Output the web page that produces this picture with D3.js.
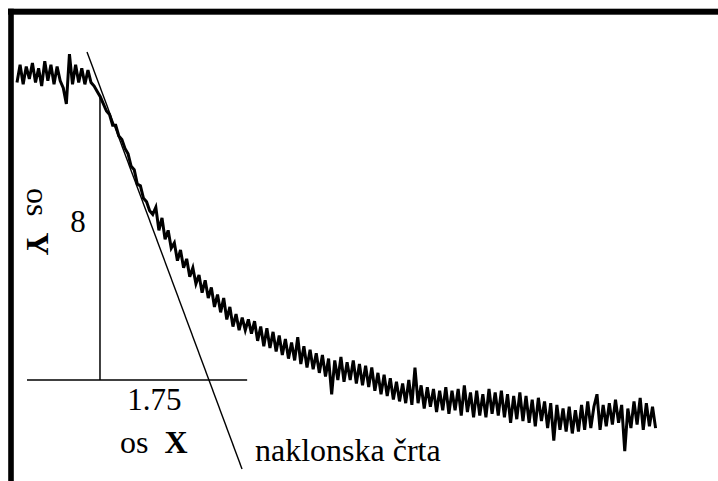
<!DOCTYPE html>
<html>
<head>
<meta charset="utf-8">
<script src="https://cdn.jsdelivr.net/npm/d3@7"></script>
<style>
  body { margin: 0; background: #fff; }
  svg { display: block; }
  text { font-family: "Liberation Serif", "Times New Roman", serif; fill: #000; }
</style>
</head>
<body>
<div id="chart"></div>
<script>
'use strict';
// measured signal, one reading every sampleStep time units
var sampleStep = 0.05;
var signal = [
    8.35, 8.85, 8.30, 8.80, 8.45, 8.90, 8.35, 8.75, 8.25, 8.95,
    8.40, 8.85, 8.30, 8.80, 8.40, 8.20, 7.75, 9.15, 8.30, 8.85,
    8.35, 8.75, 8.30, 8.70, 8.35, 8.25, 8.10, 7.95, 7.75, 7.55,
    7.45, 7.15, 7.15, 6.85, 6.75, 6.50, 6.35, 6.00, 5.90, 5.50,
    5.45, 5.10, 5.00, 4.75, 4.65, 4.85, 4.20, 4.55, 3.95, 4.20,
    3.70, 3.85, 3.35, 3.65, 3.15, 3.40, 2.90, 3.15, 2.70, 2.95,
    2.45, 2.80, 2.30, 2.60, 2.05, 2.40, 1.90, 2.30, 1.70, 2.05,
    1.50, 1.85, 1.40, 1.75, 1.40, 1.70, 1.30, 1.65, 1.10, 1.50,
    0.95, 1.45, 0.90, 1.35, 0.80, 1.25, 0.70, 1.15, 0.60, 1.05,
    0.55, 1.20, 0.45, 0.95, 0.35, 0.85, 0.30, 0.75, 0.20, 0.70,
    0.10, 0.60, -0.40, 0.55, 0.00, 0.65, -0.05, 0.50, 0.00, 0.55,
    -0.10, 0.45, -0.15, 0.40, -0.20, 0.35, -0.30, 0.20, -0.40, 0.15,
    -0.45, 0.05, -0.55, -0.05, -0.60, -0.10, -0.65, 0.00, -0.70, 0.35,
    -0.65, -0.15, -0.80, -0.20, -0.75, -0.25, -0.90, -0.30, -0.85, -0.20,
    -0.95, -0.30, -0.85, -0.25, -1.00, -0.15, -0.90, -0.35, -1.05, -0.30,
    -1.00, -0.40, -1.05, -0.25, -0.95, -0.35, -1.00, -0.30, -1.05, -0.40,
    -1.20, -0.45, -1.10, -0.35, -1.15, -0.45, -1.20, -0.55, -1.30, -0.50,
    -1.15, -0.60, -1.35, -0.65, -1.70, -0.70, -1.40, -0.80, -1.45, -0.75,
    -1.50, -0.85, -1.45, -0.70, -1.40, -0.60, -1.35, -0.75, -0.40, -1.40,
    -0.70, -1.30, -0.65, -1.25, -0.55, -1.20, -0.70, -2.00, -0.80, -1.35,
    -0.60, -1.25, -0.50, -1.40, -0.65, -1.30, -0.75, -1.35
];
// slope (tangent) line end points
var tangentT = [1.135, 3.647];
var tangentV = [9.21, -2.50];
// knee of the curve and the base line
var kneeT = 1.345;
var kneeV = 8;
var baseT = [0.162, 3.73];
// labels
var deltaXLabel = '1.75';
var deltaYLabel = '8';
var xAxisLabel = ['os', 'X'];
var yAxisLabel = ['os', 'Y'];
var tangentLabel = 'naklonska črta';

var width = 718,
    height = 481,
    x = d3.scaleLinear().domain([0, 10.35]).range([17, 655.6]),
    y = d3.scaleLinear().domain([0, 8]).range([380, 95]),
    svg = d3.select('#chart')
        .append('svg')
        .attr('width', width)
        .attr('height', height);

// frame: thick bars on top and left
svg.append('rect')
    .attr('x', 8).attr('y', 8.7)
    .attr('width', width - 8).attr('height', 6)
    .attr('fill', '#000');
svg.append('rect')
    .attr('x', 8.2).attr('y', 8.7)
    .attr('width', 5.6).attr('height', height)
    .attr('fill', '#000');

// noisy trace
var trace = d3.line()
    .x(function (d, i) { return x(i * sampleStep); })
    .y(function (d) { return y(d); });
svg.append('path')
    .datum(signal)
    .attr('d', trace)
    .attr('fill', 'none')
    .attr('stroke', '#000')
    .attr('stroke-width', 3);

// base line, knee line and slope line
svg.append('line')
    .attr('x1', x(baseT[0])).attr('x2', x(baseT[1]))
    .attr('y1', y(0)).attr('y2', y(0))
    .attr('stroke', '#000').attr('stroke-width', 1.5);
svg.append('line')
    .attr('x1', x(kneeT)).attr('x2', x(kneeT))
    .attr('y1', y(0)).attr('y2', y(kneeV))
    .attr('stroke', '#000').attr('stroke-width', 1.5);
svg.append('line')
    .attr('x1', x(tangentT[0])).attr('x2', x(tangentT[1]))
    .attr('y1', y(tangentV[0])).attr('y2', y(tangentV[1]))
    .attr('stroke', '#000').attr('stroke-width', 1.4);

// where the slope line meets the base line
var crossT = tangentT[0] + tangentV[0] / (tangentV[0] - tangentV[1]) * (tangentT[1] - tangentT[0]);
var runMid = (x(kneeT) + x(crossT)) / 2;

svg.append('text')
    .attr('x', runMid).attr('y', 410)
    .attr('text-anchor', 'middle')
    .style('font-size', '31px')
    .text(deltaXLabel);

var xl = svg.append('text')
    .attr('x', 120).attr('y', 453)
    .style('font-size', '32px');
xl.append('tspan').text(xAxisLabel[0]);
xl.append('tspan').attr('dx', 16).style('font-weight', 'bold').text(xAxisLabel[1]);

// rise beside the knee line
svg.append('text')
    .attr('x', 78).attr('y', 232)
    .attr('text-anchor', 'middle')
    .style('font-size', '31px')
    .text(deltaYLabel);

var yl = svg.append('text')
    .attr('transform', 'translate(27,188) rotate(90)')
    .style('font-size', '32px');
yl.append('tspan').text(yAxisLabel[0]);
yl.append('tspan').attr('dx', 16).style('font-weight', 'bold').text(yAxisLabel[1]);

svg.append('text')
    .attr('x', 255).attr('y', 461)
    .style('font-size', '32px')
    .text(tangentLabel);
</script>
</body>
</html>
